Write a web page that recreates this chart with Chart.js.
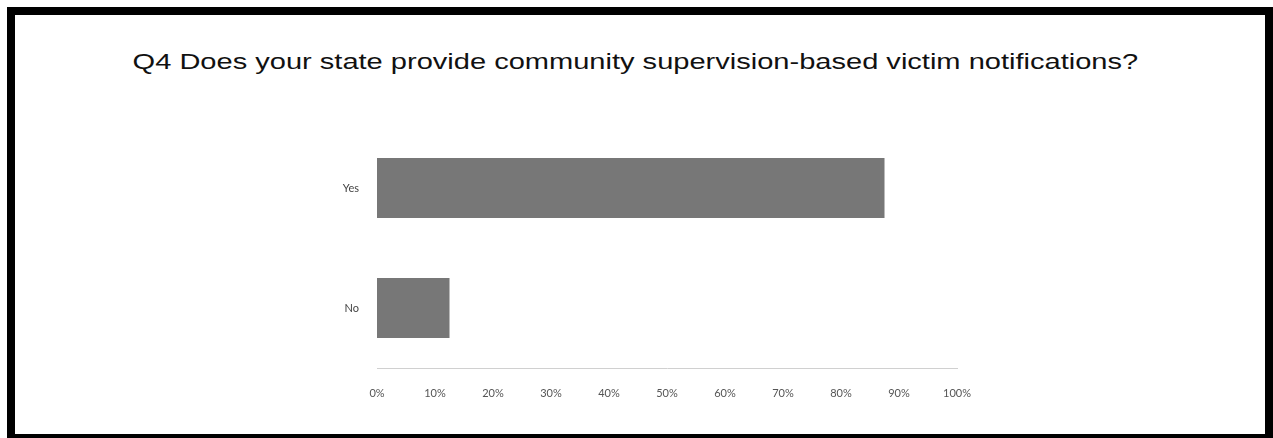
<!DOCTYPE html>
<html>
<head>
<meta charset="utf-8">
<script src="https://cdn.jsdelivr.net/npm/chart.js@4"></script>
<style>
  html, body { margin: 0; padding: 0; background: #fff; }
  #wrap { position: relative; width: 1273px; height: 438px; overflow: hidden; }
  #frame {
    position: absolute; left: 7px; top: 7px; width: 1266px; height: 435px;
    border: 8px solid #000; box-sizing: border-box;
  }
  #title {
    position: absolute; left: 0; top: 48px; width: 1273px; text-align: center;
    font-family: "Liberation Sans", Arial, sans-serif; font-size: 22px; color: #111;
    line-height: 28px; white-space: nowrap;
    transform: scaleX(1.32); transform-origin: 640px 0;
  }
  #chart { position: absolute; left: 0; top: 0; }
</style>
</head>
<body>
<div id="wrap">
  <div id="frame"></div>
  <div id="title"></div>
  <canvas id="chart" width="1273" height="438"></canvas>
</div>
<script>
// Survey answers and their share of responses (percent)
const answers = ['Yes', 'No'];
const shares = [87.5, 12.5];
const tickValues = [0, 10, 20, 30, 40, 50, 60, 70, 80, 90, 100];

const questionTitle = 'Q4 Does your state provide community supervision-based victim notifications?';
document.getElementById('title').textContent = questionTitle;

new Chart(document.getElementById('chart'), {
  type: 'bar',
  data: {
    labels: answers,
    datasets: [{
      data: shares,
      backgroundColor: '#777777',
      borderWidth: 0,
      barPercentage: 0.5,
      categoryPercentage: 1
    }]
  },
  options: {
    indexAxis: 'y',
    responsive: false,
    animation: false,
    layout: { padding: { left: 0, right: 316, top: 128, bottom: 0 } },
    plugins: {
      legend: { display: false },
      tooltip: { enabled: false },
      title: { display: false }
    },
    scales: {
      x: {
        min: 0,
        max: 100,
        afterBuildTicks: scale => {
          scale.ticks = tickValues.map(v => ({ value: v }));
        },
        afterFit: scale => { scale.height = 70; },
        grid: { display: false },
        border: { display: true, color: '#d0d0d0', width: 1 },
        ticks: {
          padding: 11,
          color: '#555',
          font: { family: 'Lato, sans-serif', size: 11 },
          callback: v => v + '%'
        }
      },
      y: {
        afterFit: scale => { scale.width = 377; },
        grid: { display: false },
        border: { display: false },
        ticks: {
          padding: 10,
          color: '#444',
          font: { family: 'Lato, sans-serif', size: 11 }
        }
      }
    }
  }
});
</script>
</body>
</html>
